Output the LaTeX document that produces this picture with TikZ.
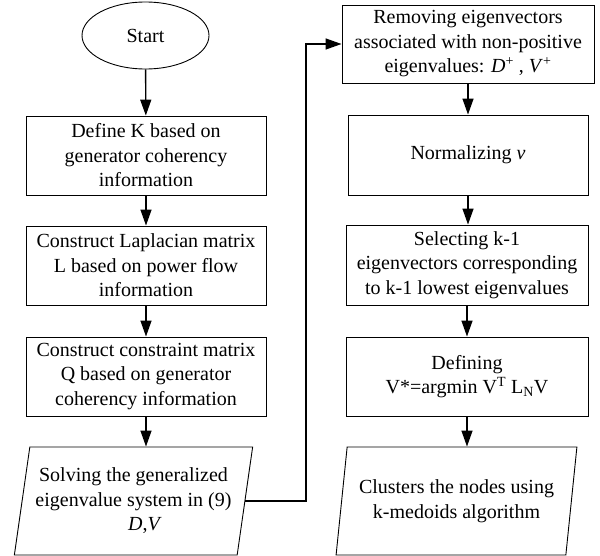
\documentclass[tikz,border=0pt]{standalone}
\usepackage{fontspec}
\setmainfont{Liberation Serif}
\usetikzlibrary{arrows.meta,shapes.geometric}
\begin{document}
\begin{tikzpicture}[x=1pt,y=-1pt,
  every node/.style={font=\fontsize{20}{24.5}\selectfont, align=center, inner sep=0pt},
  procbox/.style={draw, line width=0.9pt, minimum width=#1, minimum height=79pt},
  iobox/.style={draw, line width=0.9pt, trapezium, trapezium stretches=true,
    trapezium left angle=#1, trapezium right angle=180-#1,
    minimum height=108pt},
  flow/.style={line width=1.4pt, -{Triangle[length=16pt,width=11pt]}}]
\useasboundingbox (0,0) rectangle (600,556);

% left column
\node[draw, ellipse, line width=0.9pt, minimum width=127pt, minimum height=67pt]
  (start) at (145.5,35.5) {Start};
\node[procbox=240pt] (defk) at (146,155.5)
  {Define K based on\\generator coherency\\information};
\node[procbox=240pt] (lap) at (146,265.5)
  {Construct Laplacian matrix\\L based on power flow\\information};
\node[procbox=240pt] (cons) at (146,376.5)
  {Construct constraint matrix\\Q based on generator\\coherency information};
\node[iobox=77.5, minimum width=239pt] (solve) at (133.5,501)
  {Solving the generalized\\eigenvalue system in (9)\\\hspace*{23pt}\textit{D},\textit{V}};

% right column
\node[procbox=252pt, minimum height=78pt] (remove) at (468,44)
  {Removing eigenvectors\\associated with non-positive\\eigenvalues: \textit{D}\textsuperscript{+} , \textit{V}\textsuperscript{+}};
\node[procbox=240pt, minimum height=80pt] (norm) at (468,155)
  {Normalizing \textit{v}};
\node[procbox=242pt, minimum height=80pt] (select) at (467,265)
  {Selecting k-1\\eigenvectors corresponding\\to k-1 lowest eigenvalues};
\node[procbox=242pt] (define) at (467,376.5)
  {Defining\\V*=argmin V\textsuperscript{T} L\textsubscript{N}V};
\node[iobox=77, minimum width=241pt] (cluster) at (456.5,501)
  {Clusters the nodes using\\k-medoids algorithm};

\coordinate (bend) at (306,0);

% connectors
\draw[flow] (start) -- (defk);
\draw[flow] (defk) -- (lap);
\draw[flow] (lap) -- (cons);
\draw[flow] (cons.south) -- (cons.south |- solve.north);
\draw[flow] (solve.east) -- (solve.east -| bend) |- (remove.west);
\draw[flow] (remove.south -| norm) -- (norm.north);
\draw[flow] (norm.south) -- (norm.south |- select.north);
\draw[flow] (select) -- (define);
\draw[flow] (define.south) -- (define.south |- cluster.north);
\end{tikzpicture}
\end{document}
